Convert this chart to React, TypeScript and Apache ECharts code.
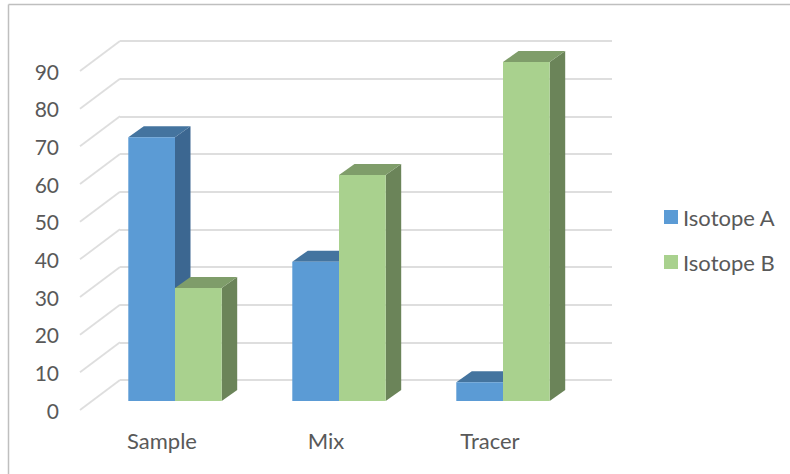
import React, { useEffect, useRef } from "react";
import * as echarts from "echarts";

const categories = ["Sample", "Mix", "Tracer"];
const isotopeA = [70, 37, 5];
const isotopeB = [30, 60, 90];
const yTicks = [0, 10, 20, 30, 40, 50, 60, 70, 80, 90];

const FONT = "Lato";
const TEXT = "#595959";
const GRID = "#dedede";
const BAR_W = 46.7;
// Offset of the bar plane behind the front edge of the floor, and the bar depth.
const INSET_X = 13;
const INSET_Y = -9;
const DEPTH_X = 15.5;
const DEPTH_Y = -11;
// Offset of the back wall behind the front edge of the floor.
const WALL_X = 40;
const WALL_Y = -30;

function boxRenderer(shift: number, front: string, top: string, side: string) {
  return (_params: any, api: any) => {
    const base = api.coord([api.value(0), 0]);
    const head = api.coord([api.value(0), api.value(1)]);
    const x0 = base[0] + INSET_X + shift;
    const x1 = x0 + BAR_W;
    const y0 = base[1] + INSET_Y;
    const y1 = head[1] + INSET_Y;
    const poly = (points: number[][], fill: string) => ({
      type: "polygon",
      shape: { points },
      style: { fill, stroke: null },
    });
    return {
      type: "group",
      children: [
        poly(
          [
            [x1, y0],
            [x1 + DEPTH_X, y0 + DEPTH_Y],
            [x1 + DEPTH_X, y1 + DEPTH_Y],
            [x1, y1],
          ],
          side,
        ),
        poly(
          [
            [x0, y1],
            [x0 + DEPTH_X, y1 + DEPTH_Y],
            [x1 + DEPTH_X, y1 + DEPTH_Y],
            [x1, y1],
          ],
          top,
        ),
        poly(
          [
            [x0, y0],
            [x1, y0],
            [x1, y1],
            [x0, y1],
          ],
          front,
        ),
      ],
    };
  };
}

// Slanted part of each gridline, running across the side wall.
function wallLineRenderer(_params: any, api: any) {
  const left = api.coord([0, api.value(0)]);
  const x = left[0] - api.size([1, 0])[0] / 2;
  return {
    type: "line",
    shape: { x1: x, y1: left[1], x2: x + WALL_X, y2: left[1] + WALL_Y },
    style: { stroke: GRID, lineWidth: 1.8 },
  };
}

export default function App() {
  const ref = useRef<HTMLDivElement>(null);

  useEffect(() => {
    const chart = echarts.init(ref.current!, undefined, { renderer: "svg" });
    chart.setOption({
      animation: false,
      backgroundColor: "#ffffff",
      graphic: [
        { type: "line", shape: { x1: 8.5, y1: 4.5, x2: 790, y2: 4.5 }, style: { stroke: "#bfbfbf", lineWidth: 1.5 } },
        { type: "line", shape: { x1: 8.5, y1: 4.5, x2: 8.5, y2: 474 }, style: { stroke: "#bfbfbf", lineWidth: 1.5 } },
      ],
      legend: {
        orient: "vertical",
        left: 659,
        top: 201,
        itemWidth: 14,
        itemHeight: 14,
        itemGap: 23,
        icon: "rect",
        textStyle: { fontFamily: FONT, fontSize: 22, color: TEXT },
        data: ["Isotope A", "Isotope B"],
      },
      grid: [
        { left: 120, top: 41, width: 492, height: 339 },
        { left: 80, top: 71, width: 492, height: 339 },
      ],
      xAxis: [
        { type: "category", gridIndex: 0, data: categories, show: false },
        {
          type: "category",
          gridIndex: 1,
          data: categories,
          axisLine: { show: false },
          axisTick: { show: false },
          axisLabel: { fontFamily: FONT, fontSize: 22, color: TEXT, margin: 19 },
        },
      ],
      yAxis: [
        {
          type: "value",
          gridIndex: 0,
          min: 0,
          max: 90,
          interval: 10,
          axisLine: { show: false },
          axisTick: { show: false },
          axisLabel: { show: false },
          splitLine: { lineStyle: { color: GRID, width: 2 } },
        },
        {
          type: "value",
          gridIndex: 1,
          min: 0,
          max: 90,
          interval: 10,
          axisLine: { show: false },
          axisTick: { show: false },
          splitLine: { show: false },
          axisLabel: { fontFamily: FONT, fontSize: 21, color: TEXT, margin: 21 },
        },
      ],
      series: [
        {
          name: "wall",
          type: "custom",
          xAxisIndex: 1,
          yAxisIndex: 1,
          silent: true,
          z: 1,
          data: yTicks.map((t) => [t]),
          encode: { y: 0 },
          renderItem: wallLineRenderer,
        },
        {
          name: "Isotope A",
          type: "custom",
          xAxisIndex: 1,
          yAxisIndex: 1,
          z: 2,
          itemStyle: { color: "#5b9bd5" },
          data: isotopeA.map((v, i) => [i, v]),
          encode: { x: 0, y: 1 },
          renderItem: boxRenderer(-BAR_W, "#5b9bd5", "#44749f", "#3c6791"),
        },
        {
          name: "Isotope B",
          type: "custom",
          xAxisIndex: 1,
          yAxisIndex: 1,
          z: 3,
          itemStyle: { color: "#a9d18e" },
          data: isotopeB.map((v, i) => [i, v]),
          encode: { x: 0, y: 1 },
          renderItem: boxRenderer(0, "#a9d18e", "#7f9d6a", "#6b8459"),
        },
      ],
    });
    return () => chart.dispose();
  }, []);

  return <div ref={ref} style={{ position: "absolute", left: 0, top: 0, width: 790, height: 474 }} />;
}
